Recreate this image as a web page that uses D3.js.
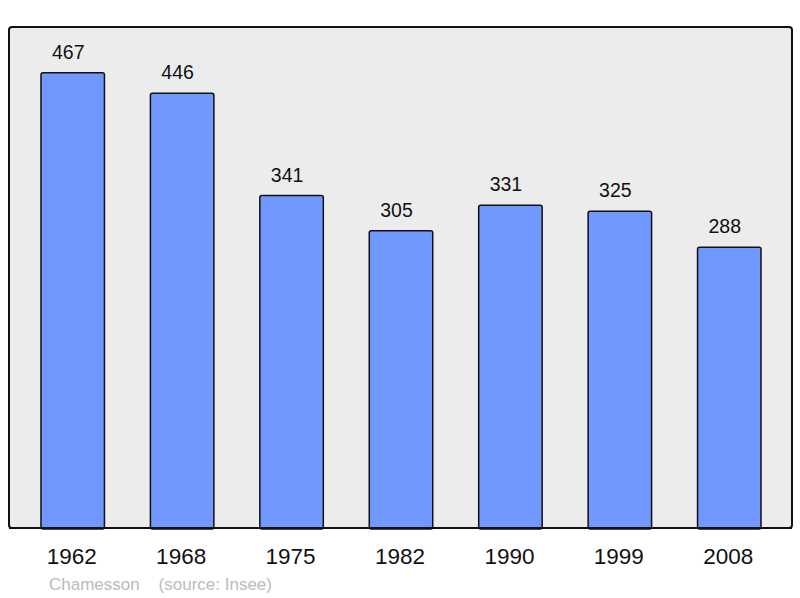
<!DOCTYPE html>
<html><head><meta charset="utf-8">
<script src="https://cdn.jsdelivr.net/npm/d3@7"></script>
<style>body{margin:0;background:#fff}svg{display:block}</style>
</head><body>
<script>
const years = ["1962","1968","1975","1982","1990","1999","2008"];
const population = [467,446,341,305,331,325,288];
const caption = "Chamesson    (source: Insee)";

const W = 800, H = 598;
const svg = d3.select("body").append("svg").attr("width", W).attr("height", H);
const frame = {x0: 9, x1: 792, y0: 27, y1: 528};

svg.append("rect").attr("x", frame.x0).attr("y", frame.y0)
  .attr("width", frame.x1 - frame.x0).attr("height", frame.y1 - frame.y0)
  .attr("rx", 3).attr("fill", "#ececec").attr("stroke", "#111").attr("stroke-width", 2);

const x = d3.scaleBand().domain(years).range([18, 784]).paddingInner(0.42).paddingOuter(0.21);
const y = d3.scaleLinear().domain([0, 514]).range([frame.y1, frame.y0]);

const data = years.map((d, i) => ({year: d, v: population[i]}));

svg.selectAll("rect.bar").data(data).enter().append("rect").attr("class", "bar")
  .attr("x", d => x(d.year)).attr("y", d => y(d.v))
  .attr("width", x.bandwidth()).attr("height", d => y(0) - y(d.v) + 1)
  .attr("rx", 2).attr("fill", "#7098ff").attr("stroke", "#111").attr("stroke-width", 1.5);

svg.append("line").attr("x1", frame.x0).attr("x2", frame.x1).attr("y1", frame.y1).attr("y2", frame.y1)
  .attr("stroke", "#111").attr("stroke-width", 2);

svg.selectAll("text.val").data(data).enter().append("text").attr("class", "val")
  .attr("x", d => x(d.year) + x.bandwidth() / 2 - 4.5).attr("y", d => y(d.v) - 14)
  .attr("text-anchor", "middle").attr("font-family", "Liberation Sans, Arial, sans-serif")
  .attr("font-size", 19.5).attr("fill", "#111").text(d => d.v);

const xAxis = svg.append("g").attr("transform", `translate(0,${frame.y1})`)
  .call(d3.axisBottom(x).tickSize(0).tickPadding(20));
xAxis.select(".domain").remove();
xAxis.selectAll("text").attr("font-family", "Liberation Sans, Arial, sans-serif")
  .attr("font-size", 22.5).attr("fill", "#111").attr("dx", -1);

svg.append("text").attr("x", 49).attr("y", 590)
  .attr("font-family", "Liberation Sans, Arial, sans-serif").attr("font-size", 17)
  .attr("fill", "#bbb").attr("xml:space", "preserve").style("white-space", "pre").text(caption);
</script>
</body></html>
